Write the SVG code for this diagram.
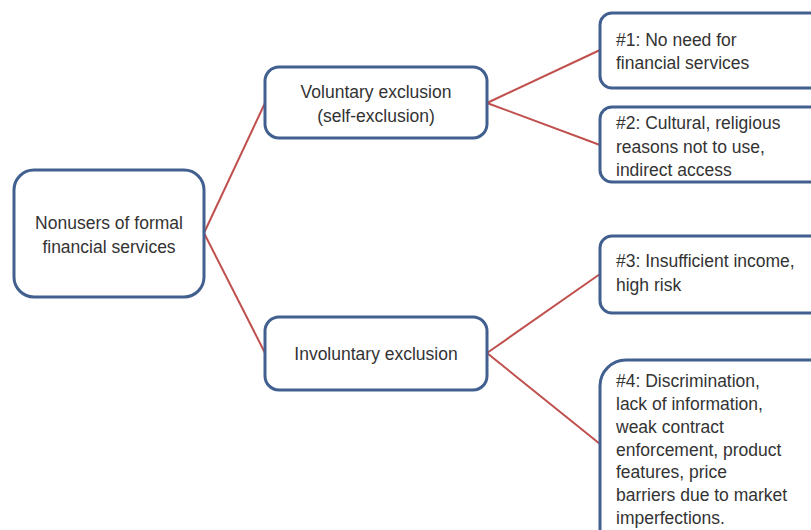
<svg xmlns="http://www.w3.org/2000/svg" width="811" height="530" viewBox="0 0 811 530">
<style>
.box{fill:#ffffff;stroke:#41608f;stroke-width:3}
.lnk{stroke:#c0504d;stroke-width:2;fill:none}
text{font-family:"Liberation Sans",Arial,sans-serif;font-size:17.5px;fill:#333333}
.c{text-anchor:middle}
</style>
<rect width="811" height="530" fill="#ffffff"/>
<g id="connectors">
<line class="lnk" x1="204" y1="233" x2="265" y2="103"/>
<line class="lnk" x1="204" y1="233" x2="265" y2="353"/>
<line class="lnk" x1="487" y1="103" x2="600" y2="50"/>
<line class="lnk" x1="487" y1="103" x2="600" y2="145"/>
<line class="lnk" x1="487" y1="353" x2="600" y2="274"/>
<line class="lnk" x1="487" y1="353" x2="600" y2="444"/>
</g>
<g id="root">
<rect class="box" x="14" y="170" width="190" height="127" rx="20"/>
<text class="c" x="109" y="229">Nonusers of formal</text>
<text class="c" x="109" y="253">financial services</text>
</g>
<g id="voluntary">
<rect class="box" x="265" y="67" width="222" height="71" rx="14"/>
<text class="c" x="376" y="98">Voluntary exclusion</text>
<text class="c" x="376" y="122">(self-exclusion)</text>
</g>
<g id="involuntary">
<rect class="box" x="265" y="317" width="222" height="73" rx="14"/>
<text class="c" x="376" y="360">Involuntary exclusion</text>
</g>
<g id="n1">
<rect class="box" x="600" y="13" width="240" height="75" rx="12"/>
<text x="616" y="46">#1: No need for</text>
<text x="616" y="69">financial services</text>
</g>
<g id="n2">
<rect class="box" x="600" y="107" width="240" height="75" rx="12"/>
<text x="616" y="129">#2: Cultural, religious</text>
<text x="616" y="153">reasons not to use,</text>
<text x="616" y="176">indirect access</text>
</g>
<g id="n3">
<rect class="box" x="600" y="236" width="240" height="77" rx="12"/>
<text x="616" y="267">#3: Insufficient income,</text>
<text x="616" y="291">high risk</text>
</g>
<g id="n4">
<rect class="box" x="600" y="360" width="240" height="200" rx="26"/>
<text x="616" y="387">#4: Discrimination,</text>
<text x="616" y="410">lack of information,</text>
<text x="616" y="433">weak contract</text>
<text x="616" y="456">enforcement, product</text>
<text x="616" y="478">features, price</text>
<text x="616" y="501">barriers due to market</text>
<text x="616" y="524">imperfections.</text>
</g>
</svg>
